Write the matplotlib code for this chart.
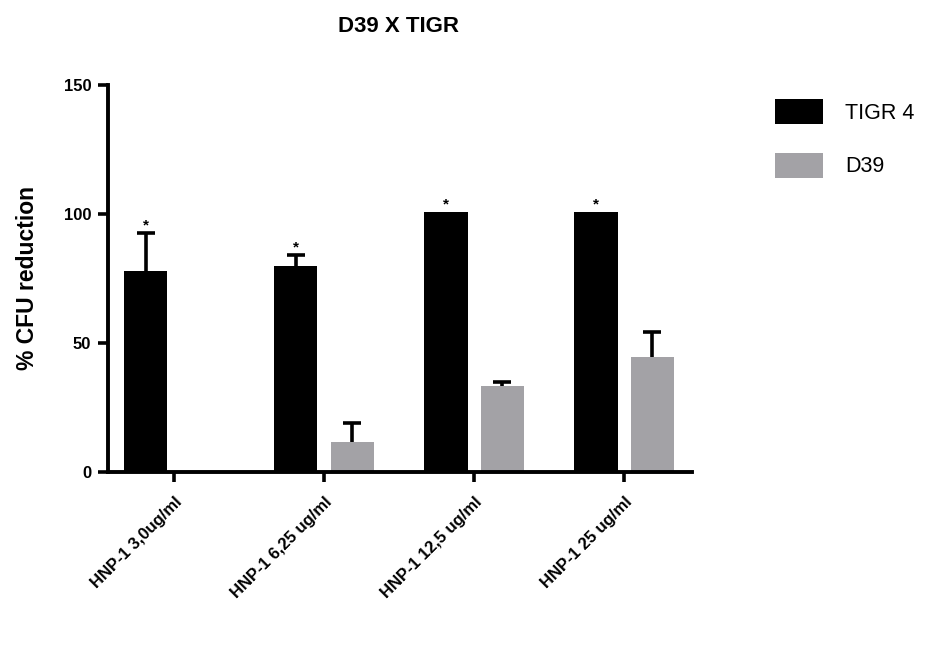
import matplotlib
matplotlib.use("Agg")
import matplotlib.pyplot as plt
import numpy as np

plt.rcParams['font.family'] = ['Liberation Sans', 'DejaVu Sans']

categories = ["HNP-1 3,0ug/ml", "HNP-1 6,25 ug/ml", "HNP-1 12,5 ug/ml", "HNP-1 25 ug/ml"]
series_names = ["TIGR 4", "D39"]
tigr4 = [77.9, 79.8, 100.8, 100.8]
tigr4_err = [14.6, 4.4, 0.0, 0.0]
d39 = [0.0, 11.7, 33.3, 44.7]
d39_err = [0.0, 7.2, 1.7, 9.7]
sig_marks = ["*", "*", "*", "*"]
title = "D39 X TIGR"
ylabel = "% CFU reduction"
yticks = [0, 50, 100, 150]

W, H = 939, 671
fig = plt.figure(figsize=(W / 100, H / 100), dpi=100)
ax = fig.add_axes([108 / W, 1 - 472 / H, (692 - 108) / W, (472 - 85) / H])

x = np.arange(len(categories))
bw = 0.287
off = 0.187
ax.bar(x - off, tigr4, bw, color='black', label=series_names[0], zorder=2)
ax.bar(x + off, d39, bw, color='#a3a2a6', label=series_names[1], zorder=2)


def upper_errors(xs, vals, errs):
    xs = np.asarray(xs, float)
    vals = np.asarray(vals, float)
    errs = np.asarray(errs, float)
    m = errs > 0
    if not m.any():
        return
    cont = ax.errorbar(xs[m], vals[m], yerr=[np.zeros(m.sum()), errs[m]],
                       fmt='none', ecolor='black', elinewidth=2.6,
                       capthick=2.6, capsize=6.5, zorder=3)
    caps = cont[1]
    if len(caps) >= 2:
        caps[0].set_visible(False)


upper_errors(x - off, tigr4, tigr4_err)
upper_errors(x + off, d39, d39_err)

for xi, v, e, s in zip(x - off, tigr4, tigr4_err, sig_marks):
    ax.annotate(s, (xi, v + e), xytext=(0, 0.5), textcoords='offset points',
                ha='center', va='bottom', fontsize=11, fontweight='bold')

ax.set_xlim(-0.44, 3.453)
ax.set_ylim(0, 150)
ax.set_yticks(yticks)
ax.set_xticks(x)
ax.set_xticklabels(categories, rotation=45, ha='right', rotation_mode='anchor',
                   fontsize=12, fontweight='bold')
for lbl in ax.get_yticklabels():
    lbl.set_fontweight('bold')
    lbl.set_fontsize(12)
ax.tick_params(axis='y', length=7, width=2.6, pad=5)
ax.tick_params(axis='x', length=7, width=2.6, pad=9)
for sp in ['top', 'right']:
    ax.spines[sp].set_visible(False)
for sp in ['left', 'bottom']:
    ax.spines[sp].set_linewidth(2.8)
ax.set_ylabel(ylabel, fontsize=16.5, fontweight='bold', labelpad=18)
fig.text(398 / W, 1 - 27 / H, title, ha='center', va='center',
         fontsize=16, fontweight='bold')

leg = ax.legend(loc='upper left', bbox_to_anchor=(775 / W, 1 - 99 / H),
                bbox_transform=fig.transFigure, frameon=False, fontsize=15.5,
                handlelength=2.23, handleheight=1.41, handletextpad=1.02,
                labelspacing=1.33, borderpad=0, borderaxespad=0)

fig.savefig("out.png", dpi=100)
